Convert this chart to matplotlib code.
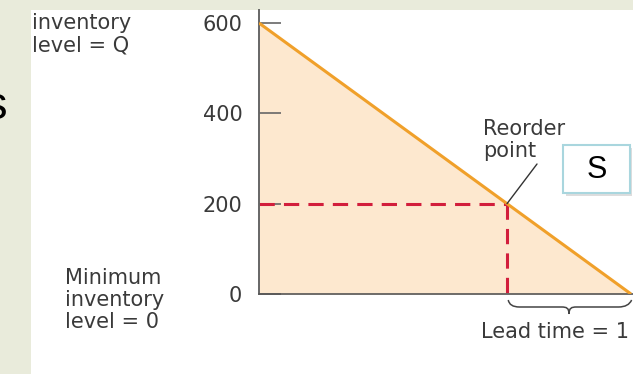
import matplotlib
matplotlib.use('Agg')
import matplotlib.pyplot as plt
from matplotlib.patches import Rectangle
from matplotlib.path import Path
from matplotlib.patches import PathPatch

# inventory sawtooth (one cycle)
times = [0, 3]
inventory = [600, 0]
y_ticks = [0, 200, 400, 600]
reorder_time = 2
reorder_level = 200
lead_time = 1

W, H = 633, 374


def px(x, y):
    # pixel (from top-left) -> figure fraction
    return x / W, 1 - y / H


fig = plt.figure(figsize=(W / 100, H / 100), dpi=100)
fig.patch.set_facecolor('#e9ebdb')

# white slide panel (behind the axes)
fig.patches.append(Rectangle(px(31, 374), (W - 31) / W, (374 - 10) / H,
                             transform=fig.transFigure, facecolor='white',
                             edgecolor='none', zorder=-1))

ax = fig.add_axes([259 / W, (H - 294) / H, 374 / W, 284 / H])
ax.set_facecolor('none')
ax.set_xlim(0, 3.016)
ax.set_ylim(0, 628.8)

ax.fill_between(times, inventory, 0, color='#fde8cf', lw=0, zorder=1)
ax.plot(times, inventory, color='#f0a02a', lw=2.2, solid_capstyle='butt', zorder=3)

# reorder point guides
ax.plot([0, reorder_time], [reorder_level, reorder_level], color='#d21e3c',
        lw=2.2, dashes=(5, 3), zorder=2)
ax.plot([reorder_time, reorder_time], [reorder_level, 0], color='#d21e3c',
        lw=2.2, dashes=(5, 3), zorder=2)

for s in ['top', 'right']:
    ax.spines[s].set_visible(False)
ax.spines['left'].set_color('#666666')
ax.spines['left'].set_linewidth(1.4)
ax.spines['bottom'].set_color('#555555')
ax.spines['bottom'].set_linewidth(1.2)

font = 'DejaVu Sans'
tc = '#3a3a3a'
ax.set_yticks(y_ticks)
ax.set_yticklabels([str(v) for v in y_ticks], fontsize=15, family=font, color=tc)
ax.tick_params(axis='y', direction='in', length=16, width=1.2, color='#666666', pad=12)
ax.set_xticks([])

# brace under lead time
x0, x1 = reorder_time, reorder_time + lead_time
xm = (x0 + x1) / 2
u = 600 / 271  # data units per pixel
b0, b1, b2 = -6 * u, -13 * u, -20 * u
verts = [(x0 + 0.01, b0), (x0 + 0.02, b1), (x0 + 0.1, b1), (xm - 0.06, b1),
         (xm - 0.02, b1), (xm, b1 - 1 * u), (xm, b2),
         (xm, b1 - 1 * u), (xm + 0.02, b1), (xm + 0.06, b1),
         (x1 - 0.1, b1), (x1 - 0.02, b1), (x1 + 0.005, b0)]
codes = [Path.MOVETO, Path.CURVE3, Path.CURVE3, Path.LINETO,
         Path.CURVE4, Path.CURVE4, Path.CURVE4,
         Path.CURVE4, Path.CURVE4, Path.CURVE4,
         Path.LINETO, Path.CURVE3, Path.CURVE3]
ax.add_patch(PathPatch(Path(verts, codes), fill=False, edgecolor='#444444',
                       lw=1.1, clip_on=False))

ax.text(x1 - 0.02, -38 * u, 'Lead time = 1', ha='right', va='center',
        fontsize=15, family=font, color=tc, clip_on=False)

# reorder point label
ax.annotate('Reorder\npoint', xy=(reorder_time, reorder_level),
            xytext=px(483, 140), textcoords='figure fraction',
            ha='left', va='center', fontsize=15, family=font, color=tc,
            linespacing=1.15, annotation_clip=False)
ax.annotate('', xy=(reorder_time, reorder_level), xytext=px(537, 164),
            textcoords='figure fraction',
            arrowprops=dict(arrowstyle='-', color='#333333', lw=1.0,
                            shrinkA=0, shrinkB=0))

# side labels
fig.text(*px(32, 34), 'inventory\nlevel = Q', ha='left', va='center',
         fontsize=15, family=font, color=tc, linespacing=1.15)
fig.text(*px(65, 300), 'Minimum\ninventory\nlevel = 0', ha='left', va='center',
         fontsize=15, family=font, color=tc, linespacing=1.15)

# slide overlay: box with "S"
fig.patches.append(Rectangle(px(566, 196), 66 / W, 48 / H, transform=fig.transFigure,
                             facecolor='#bdbdbd', edgecolor='none', alpha=0.5, zorder=5))
fig.patches.append(Rectangle(px(563, 193), 67 / W, 48 / H, transform=fig.transFigure,
                             facecolor='white', edgecolor='#a9d6de', lw=1.5, zorder=6))
fig.text(*px(597, 170), 'S', ha='center', va='center', fontsize=22,
         family='Liberation Sans', color='black', zorder=7)

# cut-off letter at the left edge of the slide
fig.text(*px(7, 107), 's', ha='right', va='center', fontsize=34,
         family='Liberation Sans', color='black')

fig.savefig('out.png', dpi=100, facecolor=fig.get_facecolor())
